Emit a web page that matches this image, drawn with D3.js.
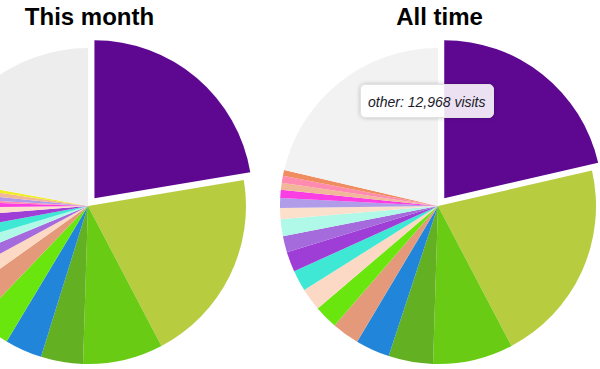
<!DOCTYPE html>
<html>
<head>
<meta charset="utf-8">
<script src="https://cdn.jsdelivr.net/npm/d3@7"></script>
<style>
    body { margin: 0; background: #fff; font-family: "Liberation Sans", Arial, sans-serif; }
    #wrap { position: relative; width: 600px; height: 369px; overflow: hidden; }
    .title { font-size: 24px; font-weight: bold; fill: #000; }
    .tip {
        position: absolute;
        font-size: 14px;
        font-style: italic;
        line-height: 16px;
        color: #1a1a2a;
        background: rgba(255, 255, 255, 0.88);
        border: 1px solid #e2e2e2;
        border-radius: 5px;
        box-shadow: 0 0 4px rgba(0, 0, 0, 0.22);
        padding: 9px 7px 7px 7px;
        white-space: nowrap;
    }
</style>
</head>
<body>
<div id="wrap"></div>
<script>
// slices, in drawing order (clockwise from 12 o'clock)
var monthNames = ['item 1', 'item 2', 'item 3', 'item 4', 'item 5', 'item 6', 'item 7', 'item 8', 'item 9',
    'item 10', 'item 11', 'item 12', 'item 13', 'item 14', 'item 15', 'item 16', 'item 17', 'item 18', 'other'];
var monthVisits = [805, 718, 295, 155, 137, 127, 108, 70, 60, 59, 62, 58, 39, 27, 13, 26, 26, 19, 796];
var monthColors = ['#5e0892', '#b8cc40', '#69cb14', '#63b123', '#2186d9', '#6ae60f', '#e49a7a', '#fcd9c5', '#a56adb',
    '#b0f8e8', '#3ee8d4', '#9e3ed7', '#fde0cc', '#fb3ee4', '#ff8cb0', '#b09ce8', '#f0b898', '#eeee22', '#ededed'];

var allNames = ['item 1', 'item 2', 'item 3', 'item 4', 'item 5', 'item 7', 'item 6', 'item 8', 'item 11',
    'item 12', 'item 9', 'item 10', 'item 13', 'item 16', 'item 14', 'item 17', 'item 15', 'item 19', 'other'];
var allVisits = [13001, 12714, 4981, 2769, 2128, 1705, 1469, 1401, 1300, 1250, 1013, 1047, 692, 608, 507, 439, 422, 371, 12968];
var allColors = ['#5e0892', '#b8cc40', '#69cb14', '#63b123', '#2186d9', '#e49a7a', '#6ae60f', '#fcd9c5', '#3ee8d4',
    '#9e3ed7', '#a56adb', '#b0f8e8', '#fde0cc', '#b09ce8', '#fb3ee4', '#f0b898', '#ff8cb0', '#ef8c60', '#f2f2f2'];

var titles = ['This month', 'All time'];

var radius = 158;
var explode = 10;

var svg = d3.select('#wrap')
    .append('svg')
    .attr('width', 600)
    .attr('height', 369);

function drawPie(names, visits, colors, cx, cy, title) {
    var rows = names.map(function(n, i) { return { name: n, visits: visits[i], color: colors[i] }; });

    var pie = d3.pie()
        .sort(null)
        .value(function(d) { return d.visits; });

    var arc = d3.arc()
        .innerRadius(0)
        .outerRadius(radius);

    var g = svg.append('g')
        .attr('transform', 'translate(' + cx + ',' + cy + ')');

    g.selectAll('path')
        .data(pie(rows))
        .enter()
        .append('path')
        .attr('d', arc)
        .attr('fill', function(d) { return d.data.color; })
        .attr('transform', function(d, i) {
            // first (largest) slice pulled out
            if (i != 0) return null;
            var mid = (d.startAngle + d.endAngle) / 2;
            return 'translate(' + (Math.sin(mid) * explode) + ',' + (-Math.cos(mid) * explode) + ')';
        });

    svg.append('text')
        .classed('title', true)
        .attr('x', cx + 1.5)
        .attr('y', 25)
        .attr('text-anchor', 'middle')
        .text(title);
}

drawPie(monthNames, monthVisits, monthColors, 88, 206, titles[0]);
drawPie(allNames, allVisits, allColors, 438, 206, titles[1]);

// tooltip on the "other" slice of the right pie
var otherIdx = allNames.indexOf('other');
d3.select('#wrap')
    .append('div')
    .classed('tip', true)
    .style('left', '360px')
    .style('top', '84px')
    .text(allNames[otherIdx] + ': ' + d3.format(',')(allVisits[otherIdx]) + ' visits');
</script>
</body>
</html>
